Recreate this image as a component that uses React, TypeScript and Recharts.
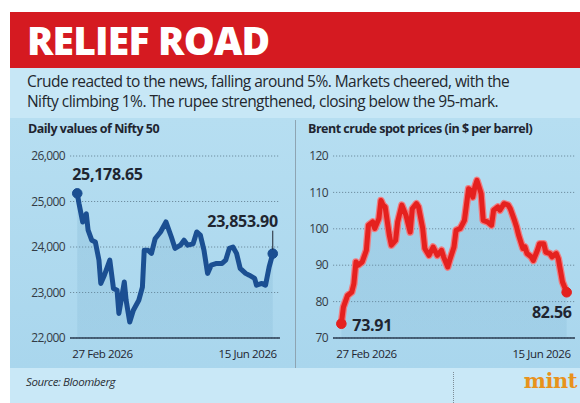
import React from "react";
import { ComposedChart, Area, Line, XAxis, YAxis, CartesianGrid } from "recharts";

// days counted from 27 Feb 2026 (0) to 15 Jun 2026 (108)
const niftyDays = [0, 1, 3, 5, 6, 8, 10, 12, 13, 15, 18, 20, 22, 23, 26, 27, 29, 31, 34, 36, 37, 39, 41, 43, 46, 49, 52, 54, 57, 59, 61, 64, 66, 68, 70, 72, 74, 77, 80, 82, 84, 86, 88, 90, 93, 95, 98, 99, 102, 104, 106, 108];
const niftyValues = [25178.65, 24950, 24550, 24730, 24370, 24150, 24110, 23710, 23200, 23380, 23710, 23090, 23050, 22540, 23230, 22830, 22350, 22610, 22830, 23120, 23930, 23930, 23860, 24180, 24330, 24550, 24220, 23970, 24040, 24150, 24040, 24070, 24330, 24260, 23930, 23420, 23600, 23640, 23640, 23710, 23970, 24000, 23860, 23530, 23420, 23380, 23310, 23160, 23200, 23160, 23560, 23853.9];

const brentDays = [0, 1, 3, 5, 6, 7, 8, 10, 12, 13, 15, 16, 18, 19, 20, 21, 23, 24, 26, 27, 29, 31, 33, 34, 36, 37, 39, 40, 42, 44, 46, 48, 49, 51, 52, 54, 55, 57, 59, 61, 62, 63, 64, 65, 67, 68, 70, 72, 73, 75, 76, 78, 80, 81, 83, 84, 85, 87, 88, 89, 91, 92, 94, 95, 97, 98, 100, 101, 103, 104, 105, 106, 108];
const brentValues = [73.91, 78.5, 81.7, 82.6, 84.9, 90.9, 90.0, 90.9, 94.1, 101.0, 101.9, 100.1, 102.8, 107.8, 106.5, 106.0, 98.2, 95.5, 96.8, 101.9, 106.5, 103.7, 99.1, 105.5, 106.9, 106.0, 100.1, 94.6, 92.7, 95.0, 92.7, 94.1, 92.3, 89.5, 91.5, 95.0, 99.6, 100.1, 102.3, 111.0, 110.6, 108.7, 111.5, 113.3, 109.7, 102.3, 101.9, 101.0, 105.1, 106.0, 105.1, 106.9, 106.5, 105.5, 102.3, 100.5, 98.2, 94.6, 95.0, 93.2, 92.3, 91.3, 94.1, 95.9, 95.9, 93.6, 93.2, 92.3, 93.2, 91.8, 88.6, 85.4, 82.56];

const dateTicks = [0, 108];
const dateLabels = ["27 Feb 2026", "15 Jun 2026"];
const niftyTicks = [22000, 23000, 24000, 25000, 26000];
const brentTicks = [70, 80, 90, 100, 110, 120];

const FONT = `"Open Sans", "Noto Sans", sans-serif`;
const INK = "#1f2530";

const niftyData = niftyDays.map((d, i) => ({ day: d, value: niftyValues[i] }));
const brentData = brentDays.map((d, i) => ({ day: d, value: brentValues[i] }));

function DateTick({ x, y, payload, index }: any) {
  const first = index === 0;
  const i = dateTicks.indexOf(payload.value);
  return (
    <text
      x={x + (first ? -5 : 4)}
      y={y + 12}
      textAnchor={first ? "start" : "end"}
      fontFamily={FONT}
      fontSize={11.5}
      letterSpacing={-0.4}
      fill={INK}
    >
      {dateLabels[i]}
    </text>
  );
}

function EndDot(color: string) {
  return (props: any) => {
    const { cx, cy, index, dataLength } = props;
    if (index !== 0 && index !== dataLength - 1) return <g key={index} />;
    return <circle key={index} cx={cx} cy={cy} r={4.8} fill={color} stroke={color} />;
  };
}

function PanelChart({
  data,
  domain,
  ticks,
  fmt,
  color,
  halo,
  yWidth,
  right,
  labels,
}: {
  data: { day: number; value: number }[];
  domain: [number, number];
  ticks: number[];
  fmt: (v: number) => string;
  color: string;
  halo?: string;
  yWidth: number;
  right: number;
  labels: (p: any) => React.ReactNode;
}) {
  const n = data.length;
  const dot = (p: any) => EndDot(color)({ ...p, dataLength: n });
  return (
    <ComposedChart
      width={290}
      height={232}
      data={data}
      margin={{ top: 15, right: right, bottom: 10, left: 0 }}
    >
      <defs>
        <linearGradient id={"fill" + color.slice(1)} x1="0" y1="0" x2="0" y2="1">
          <stop offset="0%" stopColor="#5f9cc0" stopOpacity={0.32} />
          <stop offset="100%" stopColor="#5f9cc0" stopOpacity={0.22} />
        </linearGradient>
      </defs>
      <CartesianGrid vertical={false} stroke="#6f8ea0" strokeDasharray="1.2 1.8" />
      <XAxis
        dataKey="day"
        type="number"
        domain={[-4, 112]}
        ticks={dateTicks}
        tick={<DateTick />}
        tickLine={false}
        axisLine={{ stroke: "#2b3d52", strokeWidth: 1.5 }}
        height={25}
        interval={0}
      />
      <YAxis
        domain={domain}
        ticks={ticks}
        width={yWidth}
        tickLine={false}
        axisLine={false}
        tickSize={0}
        tickMargin={5}
        tickFormatter={fmt}
        tick={{ fontFamily: FONT, fontSize: 12, fill: "#333b45", letterSpacing: -0.6 }}
        interval={0}
      />
      <Area
        dataKey="value"
        type="linear"
        stroke="none"
        fill={"url(#fill" + color.slice(1) + ")"}
        baseValue={domain[0]}
        isAnimationActive={false}
      />
      {halo && (
        <Line
          dataKey="value"
          type="linear"
          stroke={halo}
          strokeWidth={7.5}
          strokeLinejoin="round"
          dot={false}
          activeDot={false}
          isAnimationActive={false}
        />
      )}
      <Line
        dataKey="value"
        type="linear"
        stroke={color}
        strokeWidth={5}
        strokeLinejoin="round"
        strokeLinecap="round"
        dot={dot}
        activeDot={false}
        label={labels}
        isAnimationActive={false}
      />
    </ComposedChart>
  );
}

function niftyLabel(p: any) {
  const { x, y, index } = p;
  const style = { fontFamily: FONT, fontSize: 16, fontWeight: 700, fill: INK, letterSpacing: -0.3 } as any;
  if (index === 0)
    return (
      <text key={index} x={x - 5} y={y - 13} textAnchor="start" {...style}>
        25,178.65
      </text>
    );
  if (index === niftyData.length - 1)
    return (
      <g key={index}>
        <line x1={x} y1={y - 23} x2={x} y2={y - 4} stroke={INK} strokeWidth={1} />
        <text x={x + 5} y={y - 27} textAnchor="end" {...style}>
          23,853.90
        </text>
      </g>
    );
  return <g key={index} />;
}

function brentLabel(p: any) {
  const { x, y, index } = p;
  const style = { fontFamily: FONT, fontSize: 16, fontWeight: 700, fill: INK, letterSpacing: -0.3 } as any;
  if (index === 0)
    return (
      <text key={index} x={x + 11} y={y + 7} textAnchor="start" {...style}>
        73.91
      </text>
    );
  if (index === brentData.length - 1)
    return (
      <text key={index} x={x + 5} y={y + 26} textAnchor="end" {...style}>
        82.56
      </text>
    );
  return <g key={index} />;
}

export default function App() {
  return (
    <div
      style={{
        position: "relative",
        width: 580,
        height: 403,
        overflow: "hidden",
        background: "#ffffff",
        fontFamily: FONT,
        color: INK,
      }}
    >
      <style>{"body{margin:0}"}</style>
      {/* header */}
      <div style={{ position: "absolute", left: 10, top: 12, width: 570, height: 56, background: "#d51a21" }} />
      <div
        style={{
          position: "absolute",
          left: 27,
          top: 13,
          fontSize: 39,
          fontWeight: 800,
          color: "#ffffff",
          letterSpacing: -0.8,
          lineHeight: "54px",
        }}
      >
        RELIEF ROAD
      </div>
      {/* blue body */}
      <div style={{ position: "absolute", left: 10, top: 68, width: 570, height: 50, background: "#c7e7f6" }} />
      <div
        style={{
          position: "absolute",
          left: 10,
          top: 118,
          width: 570,
          height: 250,
          background: "linear-gradient(#b6def1, #a9d6ed)",
        }}
      />
      <div style={{ position: "absolute", left: 10, top: 368, width: 570, height: 35, background: "#c9e8f7" }} />
      <div style={{ position: "absolute", left: 295, top: 120, width: 1, height: 248, background: "#8ea4b2" }} />
      <div
        style={{
          position: "absolute",
          left: 27,
          top: 71,
          fontSize: 15.5,
          lineHeight: "20px",
          letterSpacing: -0.55,
          color: "#23272e",
        }}
      >
        Crude reacted to the news, falling around 5%. Markets cheered, with the
        <br />
        Nifty climbing 1%. The rupee strengthened, closing below the 95-mark.
      </div>
      <div
        style={{ position: "absolute", left: 28, top: 120, fontSize: 12.5, fontWeight: 700, letterSpacing: -0.5, color: INK }}
      >
        Daily values of Nifty 50
      </div>
      <div
        style={{ position: "absolute", left: 308, top: 120, fontSize: 12.5, fontWeight: 700, letterSpacing: -0.5, color: INK }}
      >
        Brent crude spot prices (in $ per barrel)
      </div>
      <div style={{ position: "absolute", left: 0, top: 141 }}>
        <PanelChart
          data={niftyData}
          domain={[22000, 26000]}
          ticks={niftyTicks}
          fmt={(v) => v.toLocaleString("en-US")}
          color="#1b4f92"
          yWidth={70}
          right={10}
          labels={niftyLabel}
        />
      </div>
      <div style={{ position: "absolute", left: 290, top: 141 }}>
        <PanelChart
          data={brentData}
          domain={[70, 120]}
          ticks={brentTicks}
          fmt={(v) => String(v)}
          color="#e5211f"
          halo="#f07c80"
          yWidth={43}
          right={5}
          labels={brentLabel}
        />
      </div>
      {/* footer */}
      <div
        style={{ position: "absolute", left: 26, top: 374, fontSize: 11.5, fontStyle: "italic", letterSpacing: -0.4, color: "#2a2f36" }}
      >
        Source: Bloomberg
      </div>
      <div
        style={{
          position: "absolute",
          left: 453,
          top: 372,
          width: 0,
          height: 31,
          borderLeft: "1px dotted #7d8c96",
        }}
      />
      <div
        style={{
          position: "absolute",
          right: 3,
          top: 368,
          fontFamily: `"DejaVu Serif", serif`,
          fontSize: 21,
          fontWeight: 700,
          color: "#e8921c",
          letterSpacing: -0.5,
        }}
      >
        mint
      </div>
    </div>
  );
}
